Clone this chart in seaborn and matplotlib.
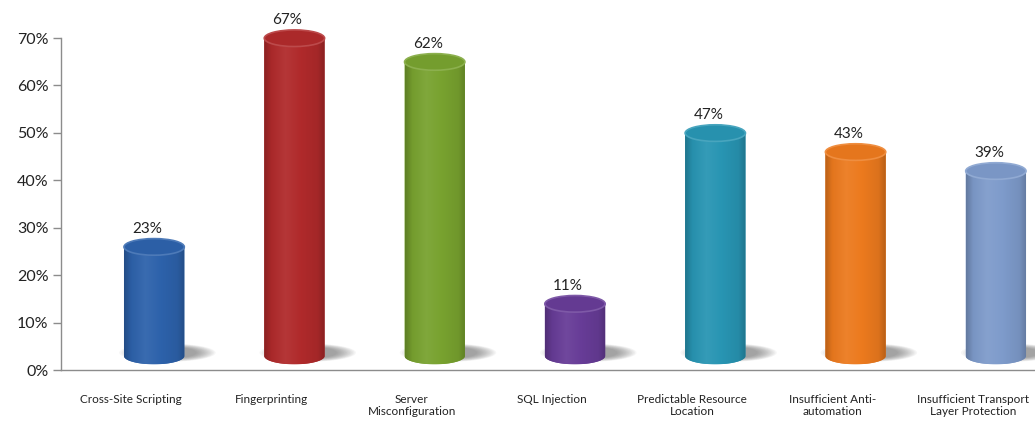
import numpy as np
import matplotlib
matplotlib.use("Agg")
import matplotlib.pyplot as plt
import seaborn as sns
import pandas as pd
from matplotlib.patches import Ellipse, PathPatch
from matplotlib.path import Path
from matplotlib.transforms import ScaledTranslation
from matplotlib.colors import LinearSegmentedColormap, to_rgb

categories = ["Cross-Site Scripting", "Fingerprinting", "Server\nMisconfiguration",
              "SQL Injection", "Predictable Resource\nLocation",
              "Insufficient Anti-\nautomation", "Insufficient Transport\nLayer Protection"]
values = [0.23, 0.67, 0.62, 0.11, 0.47, 0.43, 0.39]
value_labels = ["23%", "67%", "62%", "11%", "47%", "43%", "39%"]
colors = ["#2D62AB", "#B02A2B", "#78A22F", "#673C97", "#2895B3", "#EC7A1E", "#7E9BCB"]
yticks = [0.0, 0.1, 0.2, 0.3, 0.4, 0.5, 0.6, 0.7]
ytick_labels = ["0%", "10%", "20%", "30%", "40%", "50%", "60%", "70%"]

sns.set_style("white")
plt.rcParams["font.family"] = ["Lato", "DejaVu Sans"]

fig = plt.figure(figsize=(10.35, 4.21), dpi=100)
ax = fig.add_axes([61 / 1035, 51 / 421, 982 / 1035, 332 / 421])

df = pd.DataFrame({"cat": categories, "val": values})
sns.barplot(data=df, x="cat", y="val", hue="cat", palette=colors, width=0.43,
            saturation=1, legend=False, ax=ax)


def mix(c, target, f):
    c = np.array(to_rgb(c)); t = np.array(to_rgb(target))
    return tuple(c + (t - c) * f)


shift = ScaledTranslation(23 / 100, 14 / 100, fig.dpi_scale_trans)
tr = ax.transData + shift
ry = 0.0175  # semi-height of cylinder ellipse (data units)
grad = np.linspace(0, 1, 256).reshape(1, -1)

bars = list(ax.patches)
for patch, col, lab in zip(bars, colors, value_labels):
    x0 = patch.get_x(); w = patch.get_width(); h = patch.get_height(); cx = x0 + w / 2
    patch.set_visible(False)
    # soft shadow on the floor, cast towards the right
    n = 14
    for k in range(n):
        f = k / (n - 1)
        e = Ellipse((cx + w * 0.22 + f * w * 0.08, 0.007), w * (1.6 - f * 0.8),
                    ry * (2.2 - f * 0.9), facecolor="0.35", alpha=0.05, lw=0,
                    transform=tr, zorder=1, clip_on=False)
        ax.add_patch(e)
    # body
    t = np.linspace(np.pi, 2 * np.pi, 80)
    verts = [(x0, h)] + list(zip(cx + w / 2 * np.cos(t), ry * np.sin(t))) + [(x0 + w, h), (x0, h)]
    codes = [Path.MOVETO] + [Path.LINETO] * (len(verts) - 2) + [Path.CLOSEPOLY]
    body = PathPatch(Path(verts, codes), facecolor=col, edgecolor="none", transform=tr,
                     zorder=2, clip_on=False)
    ax.add_patch(body)
    cm = LinearSegmentedColormap.from_list(
        "cyl", [(0.0, mix(col, "black", 0.22)), (0.12, mix(col, "black", 0.04)),
                (0.35, mix(col, "white", 0.06)), (0.6, col),
                (0.88, mix(col, "black", 0.07)), (1.0, mix(col, "black", 0.22))])
    im = ax.imshow(grad, extent=[x0, x0 + w, -ry, h], aspect="auto", cmap=cm,
                   interpolation="bilinear", zorder=3)
    im.set_transform(tr)
    im.set_clip_box(fig.bbox)
    im.set_clip_path(body)
    # top cap
    top = Ellipse((cx, h), w, 2 * ry, facecolor=mix(col, "black", 0.03),
                  edgecolor=mix(col, "white", 0.15), lw=1.2, transform=tr, zorder=4,
                  clip_on=False)
    ax.add_patch(top)
    ax.text(cx, h, lab, ha="center", va="center", fontsize=11, color="#222222",
            transform=tr + ScaledTranslation(-7 / 100, 18 / 100, fig.dpi_scale_trans),
            zorder=6, clip_on=False)

ax.set_xlim(-0.5, 6.5)
ax.set_ylim(0, 0.70)
ax.set_yticks(yticks)
ax.set_yticklabels(ytick_labels, fontsize=11.5, color="#222222")
ax.set_xticks(range(len(categories)))
ax.set_xticklabels(categories, fontsize=8.5, color="#222222", linespacing=1.2)
ax.set_xticks(np.arange(-0.5, len(categories) + 0.5, 1), minor=True)
ax.tick_params(axis="x", which="major", length=0, pad=17)
ax.tick_params(axis="x", which="minor", length=5, direction="out", color="#8c8c8c", width=1)
ax.tick_params(axis="y", length=6, direction="out", color="#8c8c8c", width=1, pad=3, left=True)
ax.set_xlabel("")
ax.set_ylabel("")
for s in ["top", "right"]:
    ax.spines[s].set_visible(False)
for s in ["left", "bottom"]:
    ax.spines[s].set_color("#8c8c8c")
    ax.spines[s].set_linewidth(1)

fig.savefig("out.png", dpi=100)
